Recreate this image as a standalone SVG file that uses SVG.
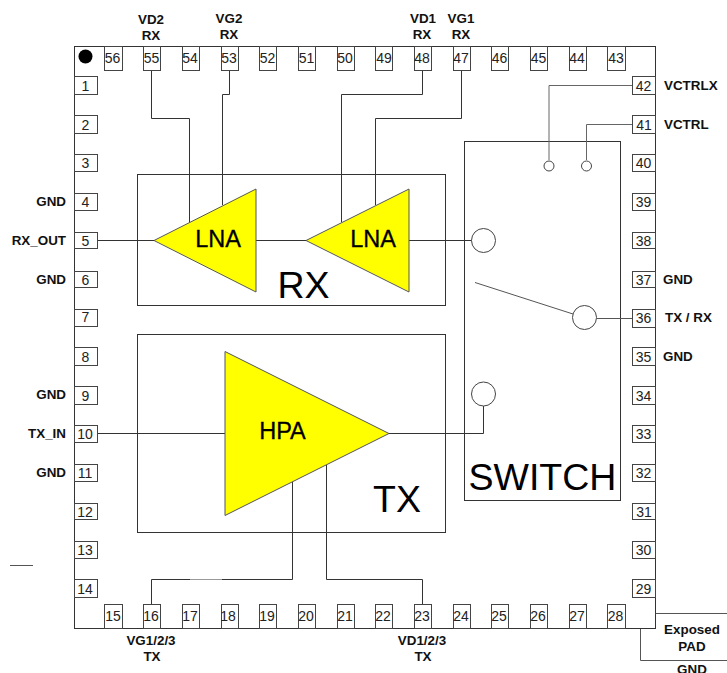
<svg xmlns="http://www.w3.org/2000/svg" width="727" height="673" viewBox="0 0 727 673">
<style>
text{font-family:"Liberation Sans",Arial,sans-serif;fill:#000;text-anchor:middle}
.pad rect{fill:#fff;stroke:#444;stroke-width:1}
.pad text{font-size:14px;fill:#222}
.lbl{font-size:13.4px;font-weight:bold;fill:#111}
.end{text-anchor:end}
.st{text-anchor:start}
.box{fill:none;stroke:#333;stroke-width:1}
.amp{fill:#ffff00;stroke:#555;stroke-width:1}
.w{fill:none;stroke:#333;stroke-width:1}
.port{fill:#fff;stroke:#444;stroke-width:1}
.big{font-size:37.5px}
.amptxt{font-size:23.5px;stroke:#000;stroke-width:.3}
</style>
<rect width="727" height="673" fill="#fff"/>
<g id="package"><rect x="74.500" y="46.500" width="581" height="582" fill="#fff" stroke="#333"/><circle cx="85.500" cy="56.500" r="7" fill="#000"/></g>
<g id="block-rx"><rect class="box" x="137.500" y="174.500" width="308" height="131"/><text class="big" x="303.500" y="298">RX</text></g>
<g id="block-tx"><rect class="box" x="137.500" y="334.500" width="308" height="198"/><text class="big" x="397" y="512">TX</text></g>
<g id="block-switch"><rect class="box" x="464.500" y="141.500" width="156" height="359"/><text class="big" x="542.500" y="490">SWITCH</text></g>
<g id="connectors">
<path class="w" d="M151.500 70V118.500H189.500V222"/>
<path class="w" d="M229.500 70V94.500H222.500V205"/>
<path class="w" d="M422.500 70V94.500H341.500V222"/>
<path class="w" d="M461.500 70V118.500H375.500V205"/>
<path class="w" d="M97 240.500H154"/>
<path class="w" d="M256 240.500H306"/>
<path class="w" d="M409 240.500H472"/>
<path class="w" d="M97 433.500H225"/>
<path class="w" d="M389 433.500H483.500V406"/>
<path class="w" d="M292.500 482V579.500H151.500V604"/>
<path class="w" d="M326.500 465V579.500H422.500V604"/>
<path class="w" style="stroke:#666" d="M632 85.500H549V160"/>
<path class="w" style="stroke:#666" d="M632 124.500H586.500V160"/>
<path class="w" style="stroke:#555" d="M475 282.500L573 314"/>
<path class="w" style="stroke:#555" d="M597 318.500H632"/>
<path class="w" style="stroke:#555" d="M10 565.500H33"/>
<path class="w" style="stroke:#999" d="M190 579.500H222"/>
</g>
<g id="amp-lna2"><polygon class="amp" points="154,240.500 256,189 256,292"/><text class="amptxt" x="218" y="246.500">LNA</text></g>
<g id="amp-lna1"><polygon class="amp" points="306,240.500 409,189 409,292"/><text class="amptxt" x="373" y="246.500">LNA</text></g>
<g id="amp-hpa"><polygon class="amp" points="225,351.500 389,433.500 225,515.500"/><text class="amptxt" x="282.500" y="439">HPA</text></g>
<g id="switch-ports">
<circle class="port" cx="483.500" cy="240.500" r="12"/>
<circle class="port" cx="584.500" cy="317.500" r="12"/>
<circle class="port" cx="483.500" cy="394" r="12"/>
<circle class="port" cx="549" cy="166" r="5"/>
<circle class="port" cx="586.500" cy="166" r="5"/>
</g>
<g id="pads-top" class="pad">
<g id="pin56"><rect x="104.500" y="46.500" width="18" height="24"/><text x="112.500" y="63">56</text></g>
<g id="pin55"><rect x="143.500" y="46.500" width="17" height="24"/><text x="151.500" y="63">55</text></g>
<g id="pin54"><rect x="182.500" y="46.500" width="17" height="24"/><text x="190" y="63">54</text></g>
<g id="pin53"><rect x="221.500" y="46.500" width="17" height="24"/><text x="229" y="63">53</text></g>
<g id="pin52"><rect x="259.500" y="46.500" width="17" height="24"/><text x="267.500" y="63">52</text></g>
<g id="pin51"><rect x="298.500" y="46.500" width="17" height="24"/><text x="306.500" y="63">51</text></g>
<g id="pin50"><rect x="337.500" y="46.500" width="17" height="24"/><text x="345" y="63">50</text></g>
<g id="pin49"><rect x="375.500" y="46.500" width="17" height="24"/><text x="384" y="63">49</text></g>
<g id="pin48"><rect x="414.500" y="46.500" width="17" height="24"/><text x="422" y="63">48</text></g>
<g id="pin47"><rect x="453.500" y="46.500" width="17" height="24"/><text x="461" y="63">47</text></g>
<g id="pin46"><rect x="491.500" y="46.500" width="17" height="24"/><text x="499.500" y="63">46</text></g>
<g id="pin45"><rect x="530.500" y="46.500" width="17" height="24"/><text x="538.500" y="63">45</text></g>
<g id="pin44"><rect x="569.500" y="46.500" width="17" height="24"/><text x="577" y="63">44</text></g>
<g id="pin43"><rect x="607.500" y="46.500" width="18" height="24"/><text x="616" y="63">43</text></g>
</g>
<g id="pads-left" class="pad">
<g id="pin1"><rect x="74.500" y="76.500" width="23" height="18"/><text x="85.500" y="91">1</text></g>
<g id="pin2"><rect x="74.500" y="115.500" width="23" height="18"/><text x="85.500" y="130">2</text></g>
<g id="pin3"><rect x="74.500" y="154.500" width="23" height="17"/><text x="85.500" y="168">3</text></g>
<g id="pin4"><rect x="74.500" y="193.500" width="23" height="17"/><text x="85.500" y="207">4</text></g>
<g id="pin5"><rect x="74.500" y="232.500" width="23" height="16"/><text x="85.500" y="245.500">5</text></g>
<g id="pin6"><rect x="74.500" y="271.500" width="23" height="16"/><text x="85.500" y="284.500">6</text></g>
<g id="pin7"><rect x="74.500" y="309.500" width="23" height="17"/><text x="85.500" y="322">7</text></g>
<g id="pin8"><rect x="74.500" y="347.500" width="23" height="18"/><text x="85.500" y="361.500">8</text></g>
<g id="pin9"><rect x="74.500" y="386.500" width="23" height="18"/><text x="85.500" y="400.500">9</text></g>
<g id="pin10"><rect x="74.500" y="425.500" width="23" height="17"/><text x="85" y="439">10</text></g>
<g id="pin11"><rect x="74.500" y="464.500" width="23" height="17"/><text x="85" y="478">11</text></g>
<g id="pin12"><rect x="74.500" y="503.500" width="23" height="16"/><text x="85" y="516.500">12</text></g>
<g id="pin13"><rect x="74.500" y="541.500" width="23" height="17"/><text x="85" y="554.500">13</text></g>
<g id="pin14"><rect x="74.500" y="579.500" width="23" height="18"/><text x="85" y="593.500">14</text></g>
</g>
<g id="pads-bottom" class="pad">
<g id="pin15"><rect x="104.500" y="604.500" width="18" height="24"/><text x="113" y="621">15</text></g>
<g id="pin16"><rect x="143.500" y="604.500" width="17" height="24"/><text x="151" y="621">16</text></g>
<g id="pin17"><rect x="182.500" y="604.500" width="17" height="24"/><text x="190" y="621">17</text></g>
<g id="pin18"><rect x="221.500" y="604.500" width="17" height="24"/><text x="228" y="621">18</text></g>
<g id="pin19"><rect x="259.500" y="604.500" width="17" height="24"/><text x="267" y="621">19</text></g>
<g id="pin20"><rect x="298.500" y="604.500" width="17" height="24"/><text x="306" y="621">20</text></g>
<g id="pin21"><rect x="337.500" y="604.500" width="17" height="24"/><text x="345" y="621">21</text></g>
<g id="pin22"><rect x="375.500" y="604.500" width="17" height="24"/><text x="383" y="621">22</text></g>
<g id="pin23"><rect x="414.500" y="604.500" width="17" height="24"/><text x="422" y="621">23</text></g>
<g id="pin24"><rect x="453.500" y="604.500" width="17" height="24"/><text x="461" y="621">24</text></g>
<g id="pin25"><rect x="491.500" y="604.500" width="17" height="24"/><text x="499" y="621">25</text></g>
<g id="pin26"><rect x="530.500" y="604.500" width="17" height="24"/><text x="538" y="621">26</text></g>
<g id="pin27"><rect x="569.500" y="604.500" width="17" height="24"/><text x="577" y="621">27</text></g>
<g id="pin28"><rect x="607.500" y="604.500" width="18" height="24"/><text x="615.500" y="621">28</text></g>
</g>
<g id="pads-right" class="pad">
<g id="pin42"><rect x="632.500" y="76.500" width="23" height="18"/><text x="643.500" y="91">42</text></g>
<g id="pin41"><rect x="632.500" y="115.500" width="23" height="18"/><text x="644" y="130">41</text></g>
<g id="pin40"><rect x="632.500" y="154.500" width="23" height="17"/><text x="643.500" y="168">40</text></g>
<g id="pin39"><rect x="632.500" y="193.500" width="23" height="17"/><text x="643.500" y="207">39</text></g>
<g id="pin38"><rect x="632.500" y="232.500" width="23" height="16"/><text x="643.500" y="245.500">38</text></g>
<g id="pin37"><rect x="632.500" y="271.500" width="23" height="16"/><text x="643.500" y="284.500">37</text></g>
<g id="pin36"><rect x="632.500" y="309.500" width="23" height="18"/><text x="643.500" y="323">36</text></g>
<g id="pin35"><rect x="632.500" y="347.500" width="23" height="18"/><text x="643.500" y="361.500">35</text></g>
<g id="pin34"><rect x="632.500" y="386.500" width="23" height="18"/><text x="643.500" y="400.500">34</text></g>
<g id="pin33"><rect x="632.500" y="425.500" width="23" height="17"/><text x="643.500" y="439">33</text></g>
<g id="pin32"><rect x="632.500" y="464.500" width="23" height="17"/><text x="643.500" y="478">32</text></g>
<g id="pin31"><rect x="632.500" y="503.500" width="23" height="16"/><text x="644" y="516.500">31</text></g>
<g id="pin30"><rect x="632.500" y="541.500" width="23" height="17"/><text x="643.500" y="554.500">30</text></g>
<g id="pin29"><rect x="632.500" y="579.500" width="23" height="18"/><text x="643.500" y="593.500">29</text></g>
</g>
<g id="exposed-pad">
<path fill="none" stroke="#555" d="M655.500 613.500H727M640.500 629V660.500H727"/>
<text class="lbl" x="692" y="634">Exposed</text>
<text class="lbl" x="692" y="651">PAD</text>
<text class="lbl" x="692" y="674">GND</text>
</g>
<g id="labels">
<text class="lbl" x="151" y="24">VD2</text><text class="lbl" x="151" y="40">RX</text>
<text class="lbl" x="229" y="23">VG2</text><text class="lbl" x="229" y="39">RX</text>
<text class="lbl" x="423" y="23">VD1</text><text class="lbl" x="422" y="39">RX</text>
<text class="lbl" x="461" y="23">VG1</text><text class="lbl" x="461" y="39">RX</text>
<text class="lbl end" x="66" y="206">GND</text>
<text class="lbl end" x="66" y="245">RX_OUT</text>
<text class="lbl end" x="66" y="284">GND</text>
<text class="lbl end" x="66" y="399">GND</text>
<text class="lbl end" x="66" y="438">TX_IN</text>
<text class="lbl end" x="66" y="477">GND</text>
<text class="lbl st" x="664" y="90">VCTRLX</text>
<text class="lbl st" x="664" y="129">VCTRL</text>
<text class="lbl st" x="663" y="284">GND</text>
<text class="lbl st" x="665" y="322">TX / RX</text>
<text class="lbl st" x="663" y="361">GND</text>
<text class="lbl" x="151" y="645">VG1/2/3</text><text class="lbl" x="152" y="661">TX</text>
<text class="lbl" x="422" y="645">VD1/2/3</text><text class="lbl" x="423" y="661">TX</text>
</g>
</svg>
